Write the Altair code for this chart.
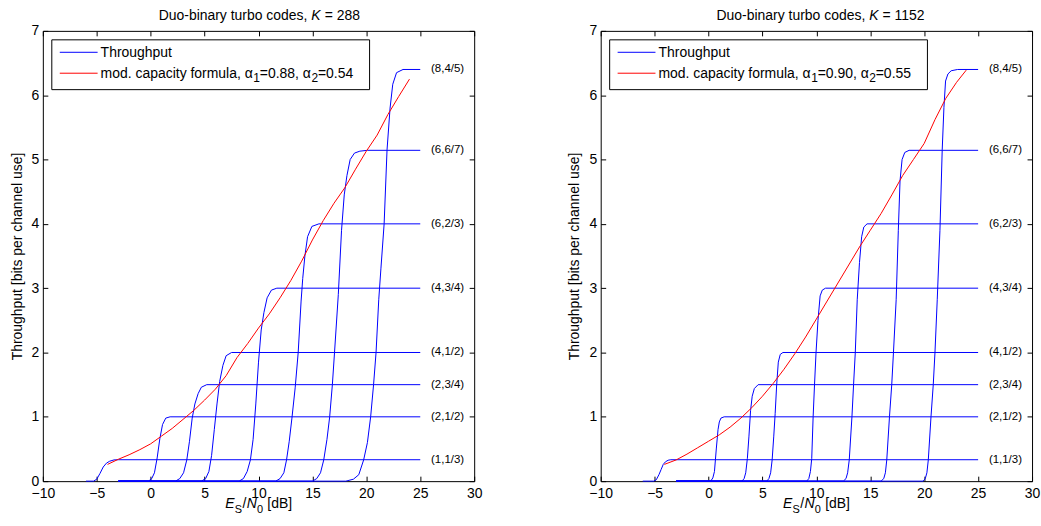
import altair as alt
import pandas as pd

FONT = "Liberation Sans"
BLUE = "#0000ff"
RED = "#ff0000"

# ---------------- axis ticks ----------------
x_ticks = [-10, -5, 0, 5, 10, 15, 20, 25, 30]
y_ticks = [0, 1, 2, 3, 4, 5, 6, 7]

# ---------------- mode labels (M, R) ----------------
mode_labels = ["(1,1/3)", "(2,1/2)", "(2,3/4)", "(4,1/2)", "(4,3/4)", "(6,2/3)", "(6,6/7)", "(8,4/5)"]
mode_levels = [0.333, 1.0, 1.5, 2.0, 3.0, 4.0, 5.143, 6.4]
label_x = 26

# ---------------- K = 288 throughput curves ----------------
k288_c1_x = [-6, -5.3, -5.0, -4.7, -4.4, -4.1, -3.8, -3.4, -3.0, 25]
k288_c1_y = [0, 0, 0.03, 0.12, 0.22, 0.28, 0.31, 0.33, 0.333, 0.333]
k288_c2_x = [-3, -0.2, 0.1, 0.35, 0.6, 0.85, 1.1, 1.4, 1.8, 25]
k288_c2_y = [0, 0, 0.04, 0.13, 0.36, 0.66, 0.88, 0.98, 1.0, 1.0]
k288_c3_x = [-3, 2.3, 2.7, 3.05, 3.35, 3.6, 3.85, 4.1, 4.4, 4.7, 5.2, 25]
k288_c3_y = [0, 0, 0.04, 0.13, 0.33, 0.62, 0.98, 1.2, 1.36, 1.46, 1.5, 1.5]
k288_c4_x = [-3, 4.7, 5.1, 5.4, 5.65, 5.9, 6.15, 6.4, 6.7, 7.0, 7.5, 25]
k288_c4_y = [0, 0, 0.04, 0.15, 0.4, 0.8, 1.2, 1.55, 1.8, 1.95, 2.0, 2.0]
k288_c5_x = [-3, 8.2, 8.6, 8.95, 9.25, 9.5, 9.75, 10.0, 10.25, 10.5, 10.8, 11.2, 11.7, 25]
k288_c5_y = [0, 0, 0.04, 0.15, 0.33, 0.65, 1.2, 1.85, 2.35, 2.62, 2.85, 2.97, 3.0, 3.0]
k288_c6_x = [-3, 11.6, 12.0, 12.35, 12.6, 12.85, 13.1, 13.4, 13.68, 13.95, 14.1, 14.3, 14.55, 14.95, 15.6, 25]
k288_c6_y = [0, 0, 0.04, 0.13, 0.33, 0.62, 0.98, 1.45, 2.0, 2.8, 3.15, 3.5, 3.8, 3.96, 4.0, 4.0]
k288_c7_x = [-3, 15.0, 15.4, 15.75, 16.05, 16.35, 16.6, 16.85, 17.05, 17.4, 17.7, 17.95, 18.2, 18.5, 18.9, 19.4, 20.1, 25]
k288_c7_y = [0, 0, 0.04, 0.13, 0.33, 0.65, 1.0, 1.5, 2.0, 2.9, 3.9, 4.45, 4.75, 5.0, 5.1, 5.13, 5.143, 5.143]
k288_c8_x = [-3, 18.1, 18.8, 19.3, 19.75, 20.1, 20.4, 20.67, 20.9, 21.15, 21.35, 21.65, 21.92, 22.2, 22.45, 22.8, 23.4, 25]
k288_c8_y = [0, 0, 0.03, 0.1, 0.33, 0.6, 1.0, 1.5, 2.0, 2.82, 3.3, 4.0, 5.15, 5.8, 6.17, 6.35, 6.4, 6.4]

# K = 288 modified capacity formula
k288_red_x = [-4, -3, -2, -1, 0, 1, 2, 3, 4, 5, 6, 7, 8, 9, 10, 11, 12, 13, 14, 15, 16, 17, 18, 19, 20, 21, 22, 23, 24]
k288_red_y = [0.26, 0.34, 0.41, 0.49, 0.58, 0.70, 0.82, 0.96, 1.1, 1.26, 1.43, 1.64, 1.92, 2.14, 2.38, 2.6, 2.85, 3.12, 3.42, 3.75, 4.05, 4.32, 4.56, 4.85, 5.13, 5.38, 5.7, 5.98, 6.25]

# ---------------- K = 1152 throughput curves ----------------
k1152_c1_x = [-6.1, -5.1, -4.85, -4.6, -4.4, -4.2, -4.0, -3.75, -3.5, 25]
k1152_c1_y = [0, 0, 0.02, 0.1, 0.18, 0.26, 0.3, 0.325, 0.333, 0.333]
k1152_c2_x = [-3, 0.2, 0.4, 0.55, 0.72, 0.88, 1.0, 1.15, 1.45, 25]
k1152_c2_y = [0, 0, 0.05, 0.15, 0.5, 0.8, 0.92, 0.98, 1.0, 1.0]
k1152_c3_x = [-3, 3.1, 3.3, 3.45, 3.6, 3.75, 3.9, 4.05, 4.25, 4.6, 25]
k1152_c3_y = [0, 0, 0.04, 0.13, 0.35, 0.7, 1.1, 1.32, 1.44, 1.5, 1.5]
k1152_c4_x = [-3, 5.4, 5.6, 5.76, 5.9, 6.05, 6.18, 6.32, 6.47, 6.65, 6.9, 25]
k1152_c4_y = [0, 0, 0.04, 0.13, 0.33, 0.7, 1.05, 1.5, 1.85, 1.97, 2.0, 2.0]
k1152_c5_x = [-3, 9.1, 9.3, 9.45, 9.57, 9.7, 9.83, 9.97, 10.15, 10.35, 10.55, 10.85, 25]
k1152_c5_y = [0, 0, 0.04, 0.15, 0.35, 1.0, 1.5, 2.0, 2.5, 2.88, 2.97, 3.0, 3.0]
k1152_c6_x = [-3, 12.5, 12.75, 12.9, 13.05, 13.3, 13.45, 13.61, 13.79, 14.0, 14.2, 14.4, 14.7, 25]
k1152_c6_y = [0, 0, 0.04, 0.13, 0.33, 1.0, 1.5, 2.0, 2.82, 3.4, 3.8, 3.95, 4.0, 4.0]
k1152_c7_x = [-3, 16.0, 16.25, 16.4, 16.53, 16.78, 16.99, 17.15, 17.4, 17.6, 17.76, 17.95, 18.2, 18.6, 25]
k1152_c7_y = [0, 0, 0.04, 0.13, 0.33, 1.0, 1.5, 2.0, 2.82, 3.9, 4.67, 5.0, 5.11, 5.143, 5.143]
k1152_c8_x = [-3, 19.9, 20.1, 20.25, 20.38, 20.63, 20.84, 21.0, 21.21, 21.46, 21.67, 21.83, 21.98, 22.2, 22.5, 23.1, 25]
k1152_c8_y = [0, 0, 0.04, 0.13, 0.33, 1.0, 1.5, 2.0, 2.82, 3.9, 5.15, 5.81, 6.22, 6.33, 6.38, 6.4, 6.4]

# K = 1152 modified capacity formula
k1152_red_x = [-4.1, -3, -2, -1, 0, 1, 2, 3, 4, 5, 6, 7, 8, 9, 10, 11, 12, 13, 14, 15, 16, 17, 18, 19, 20, 21, 22, 23, 23.9]
k1152_red_y = [0.26, 0.33, 0.42, 0.52, 0.62, 0.72, 0.84, 0.98, 1.14, 1.32, 1.52, 1.74, 1.98, 2.24, 2.52, 2.8, 3.08, 3.36, 3.64, 3.9, 4.16, 4.45, 4.75, 5.0, 5.25, 5.62, 5.95, 6.2, 6.39]

W, H = 433, 452
FS = 14
SP = 3.9  # width of a space at 14px


def curves_df(xs_list, ys_list):
    rows = []
    for i, (xs, ys) in enumerate(zip(xs_list, ys_list)):
        for j, (x, y) in enumerate(zip(xs, ys)):
            rows.append({"x": x, "y": y, "curve": i, "order": j})
    return pd.DataFrame(rows)


ONE = pd.DataFrame({"k": [0]})


def txt(s, x, y, size=FS, align="left", style="normal", dy=0):
    return alt.Chart(ONE).mark_text(
        text=s, align=align, baseline="alphabetic", font=FONT, fontSize=size,
        fontStyle=style, color="black", dy=dy
    ).encode(x=alt.value(x), y=alt.value(y))


def panel(xs_list, ys_list, red_x, red_y, k_text, a1, a2):
    xscale = alt.Scale(domain=[-10, 30], nice=False, zero=False)
    yscale = alt.Scale(domain=[0, 7], nice=False, zero=False)
    common = dict(grid=False, domain=False, tickSize=5, offset=-5, tickColor="black",
                  tickWidth=1, labelFont=FONT, labelFontSize=FS, labelColor="black")
    x_bottom = alt.Axis(values=x_ticks, orient="bottom", labelPadding=5, title=None,
                        labelFlush=False, **common)
    y_left = alt.Axis(values=y_ticks, orient="left", labelPadding=4,
                      title="Throughput [bits per channel use]", titleFont=FONT,
                      titleFontSize=FS, titleFontWeight="normal", titleColor="black",
                      titlePadding=7, **common)
    x_top = alt.Axis(values=x_ticks, orient="top", labels=False, title=None, **common)
    y_right = alt.Axis(values=y_ticks, orient="right", labels=False, title=None, **common)

    blue = alt.Chart(curves_df(xs_list, ys_list)).mark_line(color=BLUE, strokeWidth=1).encode(
        x=alt.X("x:Q", scale=xscale, axis=x_bottom),
        y=alt.Y("y:Q", scale=yscale, axis=y_left),
        detail="curve:N", order="order:Q")
    red = alt.Chart(pd.DataFrame({"x": red_x, "y": red_y})).mark_line(
        color=RED, strokeWidth=1).encode(
        x=alt.X("x:Q", scale=xscale, axis=x_top),
        y=alt.Y("y:Q", scale=yscale, axis=y_right))
    lab = alt.Chart(pd.DataFrame({"x": [label_x] * len(mode_levels), "y": mode_levels,
                                  "t": mode_labels})).mark_text(
        align="left", baseline="middle", font=FONT, fontSize=11.5, color="black").encode(
        x=alt.X("x:Q", scale=xscale, axis=None),
        y=alt.Y("y:Q", scale=yscale, axis=None), text="t:N")

    # legend box
    box = alt.Chart(ONE).mark_rect(fill="white", stroke="black", strokeWidth=1).encode(
        x=alt.value(9), x2=alt.value(328), y=alt.value(9), y2=alt.value(59))
    l1 = alt.Chart(ONE).mark_rule(color=BLUE, strokeWidth=1).encode(
        x=alt.value(17), x2=alt.value(55), y=alt.value(21.5))
    l2 = alt.Chart(ONE).mark_rule(color=RED, strokeWidth=1).encode(
        x=alt.value(17), x2=alt.value(55), y=alt.value(42.5))
    t1 = txt("Throughput", 58, 26.5)
    x0 = 58
    w1 = 152.8
    w_sub = 7.0
    w2 = 51.3
    t2a = txt("mod. capacity formula, \u03b1", x0, 47.5)
    t2b = txt("1", x0 + w1 + 0.5, 47.5, size=12, dy=4)
    t2c = txt("=" + a1 + ", \u03b1", x0 + w1 + w_sub, 47.5)
    t2d = txt("2", x0 + w1 + w_sub + w2 + 0.5, 47.5, size=12, dy=4)
    t2e = txt("=" + a2, x0 + w1 + 2 * w_sub + w2, 47.5)

    # title with italic K
    xk = 269.5
    ti1 = txt("Duo-binary turbo codes,", xk - SP, -11, align="right")
    ti2 = txt("K", xk, -11, style="italic")
    ti3 = txt("= " + k_text, xk + 9.6 + SP, -11)

    # x-axis title E_S/N_0 [dB]
    xs0 = 183.0
    yb = 479
    e1 = txt("E", xs0, yb, style="italic")
    e2 = txt("S", xs0 + 9.6, yb, size=11, dy=5)
    e3 = txt("/", xs0 + 17.4, yb)
    e4 = txt("N", xs0 + 21.6, yb, style="italic")
    e5 = txt("0", xs0 + 32.0, yb, size=11, dy=5)
    e6 = txt("[dB]", xs0 + 38.4 + SP, yb)

    return alt.layer(blue, red, lab, box, l1, l2, t1, t2a, t2b, t2c, t2d, t2e,
                     ti1, ti2, ti3, e1, e2, e3, e4, e5, e6).resolve_axis(
        x="independent", y="independent").properties(width=W, height=H)


left = panel(
    [k288_c1_x, k288_c2_x, k288_c3_x, k288_c4_x, k288_c5_x, k288_c6_x, k288_c7_x, k288_c8_x],
    [k288_c1_y, k288_c2_y, k288_c3_y, k288_c4_y, k288_c5_y, k288_c6_y, k288_c7_y, k288_c8_y],
    k288_red_x, k288_red_y, "288", "0.88", "0.54")
right = panel(
    [k1152_c1_x, k1152_c2_x, k1152_c3_x, k1152_c4_x, k1152_c5_x, k1152_c6_x, k1152_c7_x, k1152_c8_x],
    [k1152_c1_y, k1152_c2_y, k1152_c3_y, k1152_c4_y, k1152_c5_y, k1152_c6_y, k1152_c7_y, k1152_c8_y],
    k1152_red_x, k1152_red_y, "1152", "0.90", "0.55")

chart = alt.hconcat(left, right, spacing=84).properties(
    padding={"left": 9, "top": 7, "right": 0, "bottom": 0},
    background="white"
).configure_view(stroke="black", strokeWidth=1)

chart.save("out.html", embed_options={"renderer": "svg", "actions": False})
